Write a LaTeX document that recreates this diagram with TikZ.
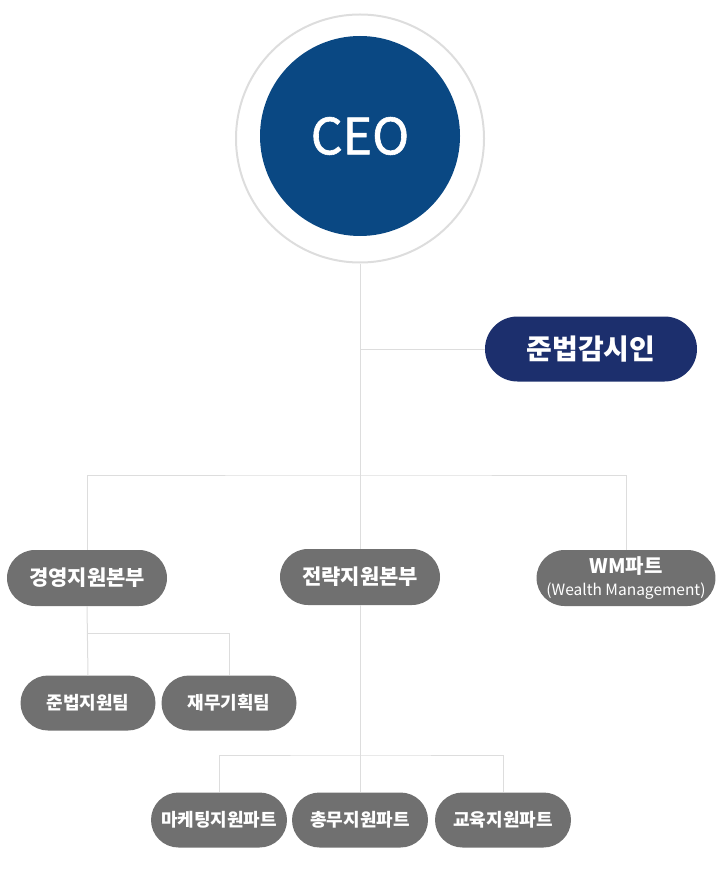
\documentclass[tikz,border=0pt]{standalone}
\usepackage{fontspec}
\setmainfont{Noto Sans CJK KR}
\newfontfamily\ceofont[FakeBold=1.2]{Noto Sans CJK KR}
\usetikzlibrary{shapes.misc}
\definecolor{ceoblue}{HTML}{0A4883}
\definecolor{navy}{HTML}{1C2F6D}
\definecolor{boxgray}{HTML}{707070}
\definecolor{linegray}{HTML}{DDDDDD}
\begin{document}
\begin{tikzpicture}[x=1pt,y=-1pt,
  link/.style={draw=linegray, line width=1pt},
  pill/.style={rounded rectangle, fill=boxgray, text=white, inner sep=0pt, font=\bfseries\fontsize{21}{24}\selectfont},
  team/.style={pill, minimum width=135pt, minimum height=55pt, font=\bfseries\fontsize{18}{21}\selectfont}]
\useasboundingbox (0,0) rectangle (720,893);
% top
\node[circle, draw=linegray, line width=2pt, minimum size=248pt, inner sep=0pt] (ring) at (360,138.5) {};
\node[circle, fill=ceoblue, text=white, minimum size=200pt, inner sep=0pt, font=\ceofont\fontsize{50}{56}\selectfont] (ceo) at (360,136) {CEO};
\node[rounded rectangle, fill=navy, text=white, minimum width=212pt, minimum height=65pt, inner sep=0pt, font=\bfseries\fontsize{28}{32}\selectfont] (comp) at (591,349) {준법감시인};

% second level
\node[pill, minimum width=160pt, minimum height=56pt] (mgmt) at (87,578) {경영지원본부};
\node[pill, minimum width=160pt, minimum height=56pt] (strat) at (360,577) {전략지원본부};
\node[pill, minimum width=172pt, minimum height=56pt, align=center] (wm) at (626,578)
  {\fontsize{20}{20}\selectfont WM파트\\[-2pt]\mdseries\fontsize{15.5}{16}\selectfont (Wealth Management)};

% teams
\node[team] (legal) at (88,703) {준법지원팀};
\node[team] (fin) at (229,703) {재무기획팀};
\node[team, minimum width=136pt] (mkt) at (219,820) {마케팅지원파트};
\node[team, minimum width=136pt] (gen) at (360,820) {총무지원파트};
\node[team, minimum width=136pt] (edu) at (503,820) {교육지원파트};

\coordinate (hubA) at (360,475);
\coordinate (hubB) at (88,633);
\coordinate (hubC) at (360,755);

\draw[link] (ring.south) -- (strat.north);
\draw[link] (comp.west) -- (comp.west -| ring.south);
\draw[link] (mgmt.north) |- (hubA) -| (wm.north);
\draw[link] (mgmt.south) -- (legal.north);
\draw[link] (hubB) -| (fin.north);
\draw[link] (strat.south) -- (gen.north);
\draw[link] (mkt.north) |- (hubC) -| (edu.north);

\end{tikzpicture}
\end{document}
